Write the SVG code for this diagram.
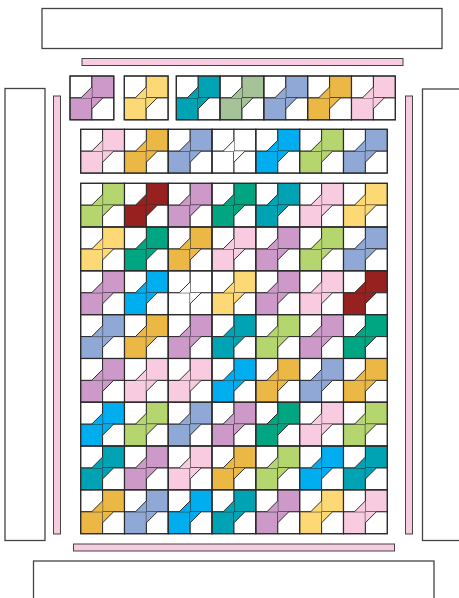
<svg xmlns="http://www.w3.org/2000/svg" xmlns:xlink="http://www.w3.org/1999/xlink" width="459" height="598" viewBox="0 0 459 598">
<style>
.frame{fill:#fff;stroke:#444;stroke-width:1.3}
.strip{fill:#F8CBE0;stroke:#444;stroke-width:1}
.sq{stroke:#2b2b2b;stroke-width:1}
.ln{stroke:#2b2b2b;stroke-width:1;fill:none}
</style>
<defs>
<g id="blk">
<rect class="sq" x="0" y="0" width="21.9" height="21.9" fill="#fff"/>
<rect class="sq" x="21.9" y="0" width="21.9" height="21.9" fill="currentColor"/>
<rect class="sq" x="0" y="21.9" width="21.9" height="21.9" fill="currentColor"/>
<rect class="sq" x="21.9" y="21.9" width="21.9" height="21.9" fill="#fff"/>
<polygon points="10.95,21.9 21.9,21.9 21.9,10.95" fill="currentColor"/>
<polygon points="21.9,21.9 32.85,21.9 21.9,32.85" fill="currentColor"/>
<line class="ln" x1="10.95" y1="21.9" x2="21.9" y2="10.95"/>
<line class="ln" x1="21.9" y1="32.85" x2="32.85" y2="21.9"/>
<rect x="0" y="0" width="43.8" height="43.8" fill="none" stroke="#2b2b2b" stroke-width="1.2"/>
</g>
</defs>
<g id="frames">
<rect class="frame" x="42" y="8.5" width="400" height="40"/>
<rect class="frame" x="5" y="88.5" width="40" height="452"/>
<rect class="frame" x="422.5" y="89" width="45" height="451.5"/>
<rect class="frame" x="33.5" y="561" width="400.5" height="45"/>
<rect class="strip" x="82" y="58.5" width="321" height="7"/>
<rect class="strip" x="53.5" y="96" width="7" height="438"/>
<rect class="strip" x="405.5" y="96" width="7" height="438"/>
<rect class="strip" x="73.5" y="544" width="321" height="7"/>
</g>
<g id="top-row">
<use href="#blk" x="70" y="76" color="#CC99C9"/>
<use href="#blk" x="124.3" y="76" color="#FDD976"/>
<use href="#blk" x="176.3" y="76" color="#00A3B4"/>
<use href="#blk" x="220.1" y="76" color="#A6C298"/>
<use href="#blk" x="263.9" y="76" color="#8FA8D6"/>
<use href="#blk" x="307.7" y="76" color="#EBB846"/>
<use href="#blk" x="351.5" y="76" color="#F8CBE0"/>
</g>
<g id="second-row">
<use href="#blk" x="80.7" y="129.3" color="#F8CBE0"/>
<use href="#blk" x="124.5" y="129.3" color="#EBB846"/>
<use href="#blk" x="168.3" y="129.3" color="#8FA8D6"/>
<use href="#blk" x="212.1" y="129.3" color="#fff"/>
<use href="#blk" x="255.9" y="129.3" color="#00AEEF"/>
<use href="#blk" x="299.7" y="129.3" color="#B5D56F"/>
<use href="#blk" x="343.5" y="129.3" color="#8FA8D6"/>
</g>
<g id="main-grid">
<use href="#blk" x="80.7" y="183.3" color="#B5D56F"/>
<use href="#blk" x="124.5" y="183.3" color="#96211F"/>
<use href="#blk" x="168.3" y="183.3" color="#CC99C9"/>
<use href="#blk" x="212.1" y="183.3" color="#00A582"/>
<use href="#blk" x="255.9" y="183.3" color="#00A3B4"/>
<use href="#blk" x="299.7" y="183.3" color="#F8CBE0"/>
<use href="#blk" x="343.5" y="183.3" color="#FDD976"/>

<use href="#blk" x="80.7" y="227.1" color="#FDD976"/>
<use href="#blk" x="124.5" y="227.1" color="#00A582"/>
<use href="#blk" x="168.3" y="227.1" color="#EBB846"/>
<use href="#blk" x="212.1" y="227.1" color="#F8CBE0"/>
<use href="#blk" x="255.9" y="227.1" color="#CC99C9"/>
<use href="#blk" x="299.7" y="227.1" color="#B5D56F"/>
<use href="#blk" x="343.5" y="227.1" color="#8FA8D6"/>

<use href="#blk" x="80.7" y="270.9" color="#CC99C9"/>
<use href="#blk" x="124.5" y="270.9" color="#00AEEF"/>
<use href="#blk" x="168.3" y="270.9" color="#fff"/>
<use href="#blk" x="212.1" y="270.9" color="#FDD976"/>
<use href="#blk" x="255.9" y="270.9" color="#CC99C9"/>
<use href="#blk" x="299.7" y="270.9" color="#F8CBE0"/>
<use href="#blk" x="343.5" y="270.9" color="#96211F"/>

<use href="#blk" x="80.7" y="314.7" color="#8FA8D6"/>
<use href="#blk" x="124.5" y="314.7" color="#EBB846"/>
<use href="#blk" x="168.3" y="314.7" color="#CC99C9"/>
<use href="#blk" x="212.1" y="314.7" color="#00A3B4"/>
<use href="#blk" x="255.9" y="314.7" color="#B5D56F"/>
<use href="#blk" x="299.7" y="314.7" color="#CC99C9"/>
<use href="#blk" x="343.5" y="314.7" color="#00A582"/>

<use href="#blk" x="80.7" y="358.5" color="#CC99C9"/>
<use href="#blk" x="124.5" y="358.5" color="#F8CBE0"/>
<use href="#blk" x="168.3" y="358.5" color="#F8CBE0"/>
<use href="#blk" x="212.1" y="358.5" color="#00AEEF"/>
<use href="#blk" x="255.9" y="358.5" color="#EBB846"/>
<use href="#blk" x="299.7" y="358.5" color="#8FA8D6"/>
<use href="#blk" x="343.5" y="358.5" color="#EBB846"/>

<use href="#blk" x="80.7" y="402.3" color="#00AEEF"/>
<use href="#blk" x="124.5" y="402.3" color="#B5D56F"/>
<use href="#blk" x="168.3" y="402.3" color="#8FA8D6"/>
<use href="#blk" x="212.1" y="402.3" color="#CC99C9"/>
<use href="#blk" x="255.9" y="402.3" color="#00A582"/>
<use href="#blk" x="299.7" y="402.3" color="#F8CBE0"/>
<use href="#blk" x="343.5" y="402.3" color="#B5D56F"/>

<use href="#blk" x="80.7" y="446.1" color="#00A3B4"/>
<use href="#blk" x="124.5" y="446.1" color="#CC99C9"/>
<use href="#blk" x="168.3" y="446.1" color="#F8CBE0"/>
<use href="#blk" x="212.1" y="446.1" color="#EBB846"/>
<use href="#blk" x="255.9" y="446.1" color="#B5D56F"/>
<use href="#blk" x="299.7" y="446.1" color="#00AEEF"/>
<use href="#blk" x="343.5" y="446.1" color="#00A3B4"/>

<use href="#blk" x="80.7" y="489.9" color="#EBB846"/>
<use href="#blk" x="124.5" y="489.9" color="#8FA8D6"/>
<use href="#blk" x="168.3" y="489.9" color="#00AEEF"/>
<use href="#blk" x="212.1" y="489.9" color="#00A3B4"/>
<use href="#blk" x="255.9" y="489.9" color="#CC99C9"/>
<use href="#blk" x="299.7" y="489.9" color="#FDD976"/>
<use href="#blk" x="343.5" y="489.9" color="#F8CBE0"/>
</g>
</svg>
